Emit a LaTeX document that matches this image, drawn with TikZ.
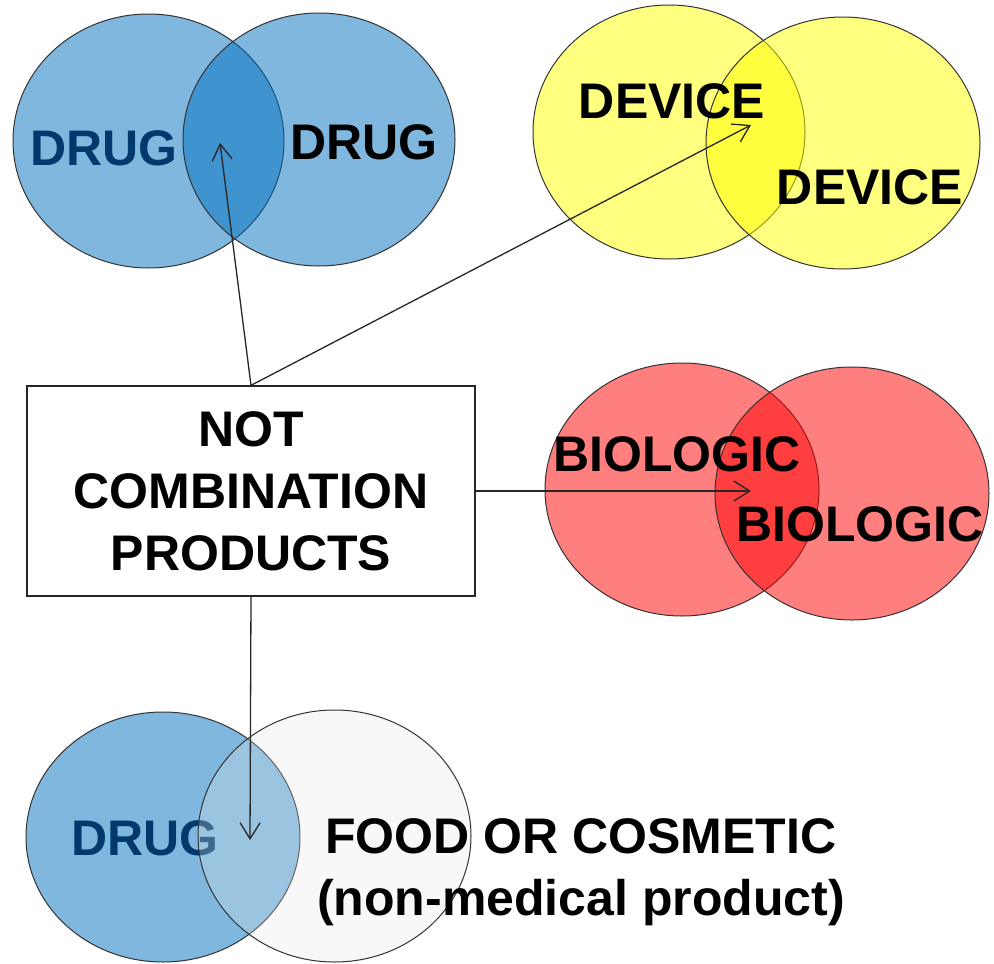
\documentclass[tikz,border=0pt]{standalone}
\usepackage{fontspec}
\setmainfont{Liberation Sans}
\usetikzlibrary{arrows.meta}
\definecolor{drugblue}{RGB}{0,112,192}
\definecolor{drugtext}{RGB}{0,58,108}
\definecolor{foodgray}{RGB}{232,232,232}
\definecolor{devyellow}{RGB}{255,255,0}
\definecolor{bioRed}{RGB}{255,0,0}
\begin{document}
\begin{tikzpicture}[x=1pt,y=-1pt,
  venn/.style={draw=black!80, line width=1pt, fill opacity=0.5},
  lbl/.style={font=\fontsize{50}{62}\selectfont\bfseries, inner sep=0pt},
  conn/.style={draw=black!85, line width=1.3pt,
    -{Straight Barb[length=16pt,width=20pt,line width=1.3pt]}}]
\useasboundingbox (0,0) rectangle (994,964);
\fill[white] (0,0) rectangle (994,964);

% top-left: drug + drug
\draw[venn, fill=drugblue] (148.5,141) ellipse [x radius=135.5pt, y radius=127pt];
\draw[venn, fill=drugblue] (319,139.5) ellipse [x radius=136pt, y radius=126.5pt];
% top-right: device + device
\draw[venn, fill=devyellow] (669,132) ellipse [x radius=136pt, y radius=127pt];
\draw[venn, fill=devyellow] (843,143) ellipse [x radius=137pt, y radius=126pt];
% middle-right: biologic + biologic
\draw[venn, fill=bioRed] (682,489.5) ellipse [x radius=137pt, y radius=126.5pt];
\draw[venn, fill=bioRed] (852,493.5) ellipse [x radius=137pt, y radius=126.5pt];
% bottom: drug + food/cosmetic
\draw[venn, fill=drugblue] (163,837) ellipse [x radius=137pt, y radius=125pt];
\node[lbl, text=drugtext] (drugC) at (145,838) {DRUG};
\draw[venn, fill=foodgray, fill opacity=0.27] (334.5,836) ellipse [x radius=136.5pt, y radius=126pt];

% labels
\node[lbl, text=drugtext] (drugA) at (104,148) {DRUG};
\node[lbl] (drugB) at (364,142) {DRUG};
\node[lbl] (devA) at (672,101) {DEVICE};
\node[lbl] (devB) at (870,187) {DEVICE};
\node[lbl] (bioA) at (677,454) {BIOLOGIC};
\node[lbl] (bioB) at (860,524) {BIOLOGIC};
\node[lbl, anchor=base] (food1) at (581,853) {FOOD OR COSMETIC};
\node[lbl, anchor=base] (food2) at (581,915) {(non-medical product)};

% central box
\node[lbl, draw=black!85, line width=1.3pt, fill=white, align=center,
  minimum width=448pt, minimum height=210pt] (box) at (251,491)
  {NOT\\COMBINATION\\PRODUCTS};

% arrow targets
\coordinate (tipDrug) at (220,143);
\coordinate (tipDev) at (751,125);
\coordinate (tipBio) at (751,491);
\coordinate (tipFood) at (250,840);

\draw[conn] (box.north) -- (tipDrug);
\draw[conn] (box.north) -- (tipDev);
\draw[conn] (box.east) -- (tipBio);
\draw[conn] (box.south) -- (tipFood);
\end{tikzpicture}
\end{document}
